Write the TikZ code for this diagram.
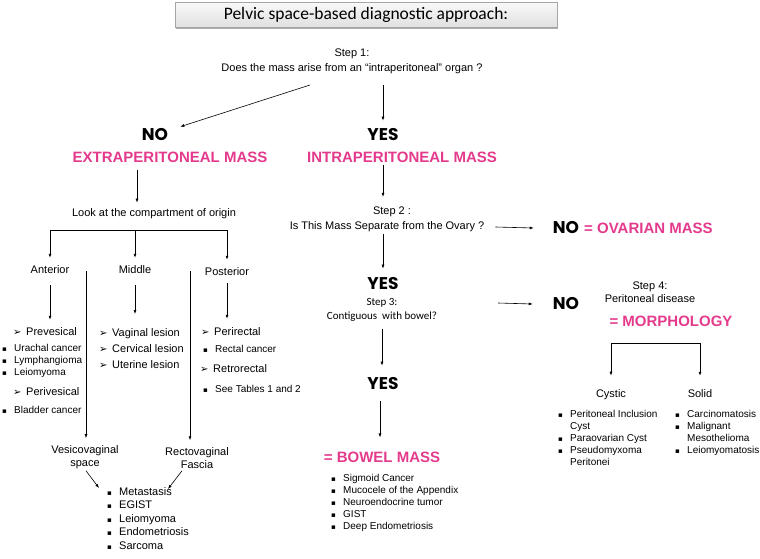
\documentclass[tikz,border=0pt]{standalone}
\usepackage{fontspec}
\setmainfont{Liberation Sans}
\newfontfamily\titlefont{Carlito}
\newfontfamily\handfont{Poppins}
\newfontfamily\symfont{DejaVu Sans}
\usetikzlibrary{arrows.meta, positioning, shadows, calc}
\definecolor{masspink}{RGB}{228,58,140}
\newcommand{\setfs}[2]{\fontsize{#1}{#2}\selectfont}
\newcommand{\sqb}{\makebox[12pt][l]{\symfont\setfs{7}{7}▪}}
\newcommand{\arrb}{\makebox[13pt][l]{\symfont\setfs{10}{10}➢}}
\newcommand{\cont}{\hspace*{12pt}}

\begin{document}
\begin{tikzpicture}[x=1pt,y=-1pt,
    arr/.style={-{Latex[length=4pt,width=3pt]},line width=0.6pt},
    titlebox/.style={rectangle,draw=gray!70,top color=gray!5,bottom color=gray!25,minimum width=382pt,minimum height=25pt,
        drop shadow={shadow xshift=1.2pt,shadow yshift=-1.2pt,fill=gray!80,opacity=.8},font=\titlefont\setfs{17.5}{17.5}},
    lbl/.style={font=\setfs{11}{13},align=center,inner sep=2pt},
    calib/.style={font=\titlefont\setfs{11}{14},align=center,inner sep=2pt},
    pinkhead/.style={font=\bfseries\setfs{15}{15},text=masspink,inner sep=2pt},
    yesno/.style={font=\handfont\bfseries\setfs{17}{17},inner sep=0pt},
    item/.style={font=\setfs{11}{13},align=left,inner sep=0pt},
    subitem/.style={font=\setfs{10}{12},align=left,inner sep=0pt}]
    \useasboundingbox (0,0) rectangle (760,559);
    % Title
    \node[titlebox] (title) at (366,15) {Pelvic space-based diagnostic approach:};

    % Step 1
    \node[lbl,font=\setfs{11}{15}] (step1) at (352,61.5) {Step 1:\\Does the mass arise from an “intraperitoneal” organ ?};
    \coordinate (s1no) at (310,85);
    \node[yesno] (no1) at (155,135) {NO};
    \node[yesno] (yes1) at (383,135) {YES};
    \draw[arr] (s1no) -- ([xshift=12pt,yshift=2pt]no1.north east);
    \draw[arr] ([yshift=-9pt]step1.south -| yes1) -- ([yshift=8pt]yes1.north);

    % Extraperitoneal branch
    \node[pinkhead] (extra) at (170,157) {EXTRAPERITONEAL MASS};
    \node[lbl] (look) at (154,214) {Look at the compartment of origin};
    \draw[arr] ([xshift=-33pt,yshift=-5pt]extra.south) -- ([xshift=-17pt,yshift=4pt]look.north);

    \node[lbl] (ant) at (50,270) {Anterior};
    \node[lbl] (mid) at (135,270) {Middle};
    \node[lbl] (post) at (227,272) {Posterior};
    \coordinate (brk) at (0,230);
    \draw[line width=0.6pt] (ant |- brk) -- (post |- brk);
    \foreach \c in {ant,mid,post}
        \draw[arr] (\c |- brk) -- ([yshift=6pt]\c.north);

    % Anterior
    \node[item,anchor=west] (prev) at (13,332) {\arrb Prevesical};
    \node[subitem,anchor=north west] (antlist) at (2,344) {\sqb Urachal cancer\\\sqb Lymphangioma\\\sqb Leiomyoma};
    \node[item,anchor=west] (periv) at (13,392) {\arrb Perivesical};
    \node[subitem,anchor=west] (bladder) at (2,410) {\sqb Bladder cancer};
    \draw[arr] ([yshift=-9pt]ant.south) -- ([yshift=8pt]prev.north -| ant);

    % Middle
    \node[item,font=\setfs{11}{16},anchor=north west] (midlist) at (99,328) {\arrb Vaginal lesion\\\arrb Cervical lesion\\\arrb Uterine lesion};
    \draw[arr] ([yshift=-9pt]mid.south) -- ([yshift=14pt]midlist.north -| mid);

    % Posterior
    \node[item,anchor=west] (perir) at (201,332) {\arrb Perirectal};
    \node[subitem,anchor=west] (rectal) at (203,349) {\sqb Rectal cancer};
    \node[item,anchor=west] (retror) at (200,369) {\arrb Retrorectal};
    \node[subitem,anchor=west] (seetab) at (203,389) {\sqb See Tables 1 and 2};
    \draw[arr] ([yshift=-5pt]post.south) -- ([yshift=9pt]perir.north -| post);

    % Vesicovaginal / rectovaginal
    \coordinate (vvtop) at (86,271);
    \coordinate (rvtop) at (190,271);
    \node[lbl] (vesico) at (85,457) {Vesicovaginal\\space};
    \node[lbl] (recto) at (197,458) {Rectovaginal\\Fascia};
    \draw[arr,shorten >=5pt] (vvtop) -- (vvtop |- vesico.north);
    \draw[arr,shorten >=5pt] (rvtop) -- (rvtop |- recto.north);
    \node[item,font=\setfs{11}{13.5},anchor=north west] (bottomlist) at (107,487) {\sqb Metastasis\\\sqb EGIST\\\sqb Leiomyoma\\\sqb Endometriosis\\\sqb Sarcoma};
    \draw[arr] ([xshift=1pt]vesico.south) -- ([xshift=-8pt,yshift=-1pt]bottomlist.north west);
    \draw[arr] ([xshift=-15pt]recto.south) -- ([xshift=61pt,yshift=-2pt]bottomlist.north west);

    % Intraperitoneal branch
    \node[pinkhead] (intra) at (402,157) {INTRAPERITONEAL MASS};
    \node[lbl] (step2) at (392,212) {Step 2 :};
    \node[lbl] (step2q) at (387,227) {Is This Mass Separate from the Ovary ?};
    \draw[arr] (intra.south -| yes1) -- ([yshift=8pt]step2.north -| yes1);
    \node[yesno] (ovno) at (566,228) {NO};
    \node[pinkhead,anchor=west] (ovary) at (582,228) {= OVARIAN MASS};
    \draw[arr] ([xshift=9pt]step2q.east) -- ([xshift=-19pt]ovno.west);

    \node[yesno] (yes2) at (383,284) {YES};
    \draw[arr] (step2q.south -| yes1) -- ([yshift=9pt]yes2.north);
    \node[calib] (step3) at (382,310) {Step 3:\\Contiguous\ \ with bowel?};
    \node[yesno] (yes3) at (383,384) {YES};
    \draw[arr] ([yshift=-5pt]step3.south) -- ([yshift=12pt]yes3.north -| step3);
    \node[pinkhead] (bowel) at (382,457) {= BOWEL MASS};
    \draw[arr] ([xshift=-3pt,yshift=-11pt]yes3.south) -- ([xshift=-2pt,yshift=12pt]bowel.north);
    \node[subitem,anchor=north west] (bowellist) at (331,474) {\sqb Sigmoid Cancer\\\sqb Mucocele of the Appendix\\\sqb Neuroendocrine tumor\\\sqb GIST\\\sqb Deep Endometriosis};

    % Step 4
    \coordinate (s3out) at (498,303);
    \node[yesno] (no4) at (566,304) {NO};
    \draw[arr] (s3out) -- ([xshift=-20pt]no4.west);
    \node[lbl] (step4) at (650,292) {Step 4:\\Peritoneal disease};
    \node[pinkhead] (morph) at (671,321) {= MORPHOLOGY};
    \node[lbl] (cystic) at (611,395) {Cystic};
    \node[lbl] (solid) at (700,394) {Solid};
    \coordinate (mbrk) at (0,343);
    \draw[line width=0.6pt] (cystic |- mbrk) -- (solid |- mbrk);
    \foreach \c in {cystic,solid}
        \draw[arr] (\c |- mbrk) -- ([yshift=12pt]\c.north);
    \node[subitem,anchor=north west] (cysticlist) at (558,410) {\sqb Peritoneal Inclusion\\\cont Cyst\\\sqb Paraovarian Cyst\\\sqb Pseudomyxoma\\\cont Peritonei};
    \node[subitem,anchor=north west] (solidlist) at (675,410) {\sqb Carcinomatosis\\\sqb Malignant\\\cont Mesothelioma\\\sqb Leiomyomatosis};
\end{tikzpicture}
\end{document}
